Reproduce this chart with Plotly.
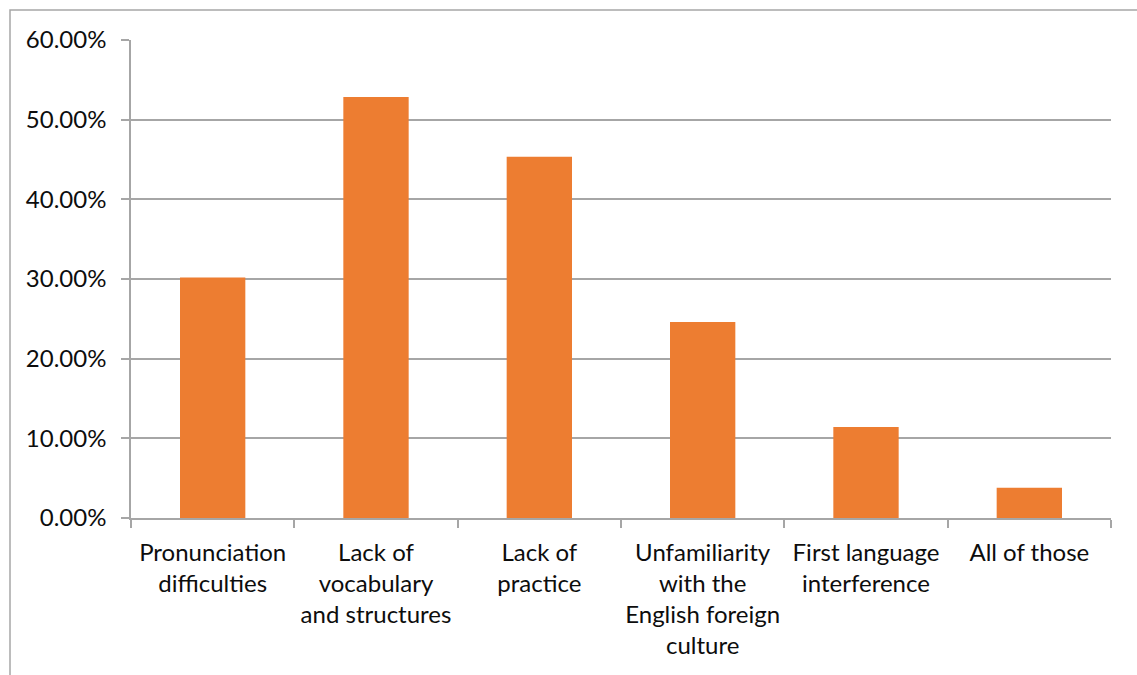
import plotly.graph_objects as go

# Reasons for speaking difficulties (share of respondents)
categories = [
    "Pronunciation<br>difficulties",
    "Lack of<br>vocabulary<br>and structures",
    "Lack of<br>practice",
    "Unfamiliarity<br>with the<br>English foreign<br>culture",
    "First language<br>interference",
    "All of those",
]
shares = [0.3019, 0.5286, 0.4533, 0.2459, 0.1142, 0.0380]
y_ticks = [0, 0.1, 0.2, 0.3, 0.4, 0.5, 0.6]

W, H = 1137, 675
ML, MR, MT, MB = 131, 26, 40, 157
GRID = "#a6a6a6"
FONT = dict(family="Lato, Carlito, Calibri, sans-serif", size=24, color="#0d0d0d")

fig = go.Figure(
    go.Bar(
        x=categories,
        y=shares,
        marker=dict(color="#ED7D31", line=dict(width=0)),
        width=0.4,
    )
)

# outer chart frame (left and top edges)
pw, ph = W - ML - MR, H - MT - MB
fx = (10 - ML) / pw
fy_top = 1 + (MT - 10) / ph
fy_bot = -MB / ph - 0.05
fx_right = 1 + (MR + 5) / pw
fig.add_shape(
    type="path",
    xref="paper", yref="paper",
    path=f"M {fx} {fy_bot} L {fx} {fy_top} L {fx_right} {fy_top}",
    line=dict(color=GRID, width=1.5),
)

fig.update_layout(
    width=W, height=H,
    margin=dict(l=ML, r=MR, t=MT, b=MB, pad=0),
    paper_bgcolor="white", plot_bgcolor="white",
    font=FONT,
    showlegend=False,
    bargap=0.6,
)
fig.update_xaxes(
    showgrid=False,
    showline=True, linecolor=GRID, linewidth=1.5,
    ticks="outside", tickson="boundaries", ticklen=8, tickcolor=GRID, tickwidth=1.5,
    tickangle=0,
    tickfont=FONT,
    ticklabelstandoff=12,
)
fig.update_yaxes(
    range=[0, 0.6],
    tickvals=y_ticks,
    tickformat=".2%",
    showgrid=True, gridcolor=GRID, gridwidth=1.5,
    showline=True, linecolor=GRID, linewidth=1.5,
    ticks="outside", ticklen=8, tickcolor=GRID, tickwidth=1.5,
    tickfont=FONT,
    zeroline=False,
    ticklabelstandoff=10,
)

fig.write_html("out.html")
